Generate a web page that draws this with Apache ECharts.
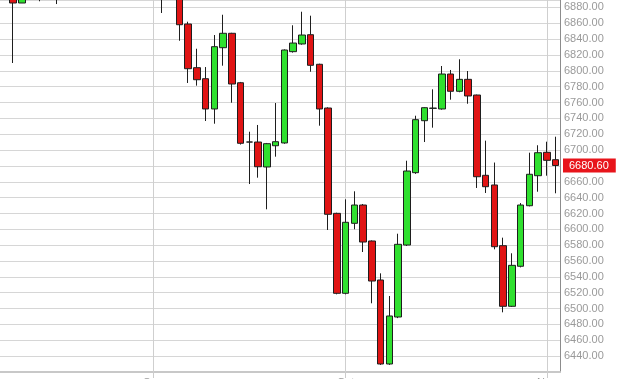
<!DOCTYPE html>
<html>
<head>
<meta charset="utf-8">
<script src="https://cdn.jsdelivr.net/npm/echarts@6/dist/echarts.min.js"></script>
<style>
html,body{margin:0;padding:0;background:#fff;}
#chart{width:619px;height:379px;}
</style>
</head>
<body>
<div id="chart"></div>
<script>
// Trading days (first entry is a leading day whose candle lies above the visible range)
const categories = [
  '2014-08-07','2014-08-08','2014-08-11','2014-08-12','2014-08-13','2014-08-14','2014-08-15',
  '2014-08-18','2014-08-19','2014-08-20','2014-08-21','2014-08-22',
  '2014-08-25','2014-08-26','2014-08-27','2014-08-28','2014-08-29',
  '2014-09-01','2014-09-02','2014-09-03','2014-09-04','2014-09-05',
  '2014-09-08','2014-09-09','2014-09-10','2014-09-11','2014-09-12',
  '2014-09-15','2014-09-16','2014-09-17','2014-09-18','2014-09-19',
  '2014-09-22','2014-09-23','2014-09-24','2014-09-25','2014-09-26',
  '2014-09-29','2014-09-30',
  '2014-10-01','2014-10-02','2014-10-03',
  '2014-10-06','2014-10-07','2014-10-08','2014-10-09','2014-10-10',
  '2014-10-13','2014-10-14','2014-10-15','2014-10-16','2014-10-17',
  '2014-10-20','2014-10-21','2014-10-22','2014-10-23','2014-10-24',
  '2014-10-27','2014-10-28','2014-10-29','2014-10-30','2014-10-31',
  '2014-11-03','2014-11-04'
];
const opens = [
  6905, 6912, 6885.6, 6898, 6910, 6903, 6915, 6905, 6918, 6930, 6925, 6938, 6945, 6936, 6942, 6950, 6944, 6938,
  6930, 6918, 6900, 6859.1, 6804.0, 6790.1, 6751.9, 6829.2, 6847.4, 6785.0, 6710.2, 6710.2, 6678.7, 6705.5,
  6709.0, 6824.2, 6833.9, 6845.6, 6808.3, 6753.1, 6620.2, 6519.3, 6607.6, 6630.7, 6585.3, 6536.1, 6430.1,
  6489.4, 6580.2, 6671.5, 6737.1, 6752.7, 6751.9, 6796.0, 6774.2, 6789.3, 6769.5, 6668.2, 6656.0, 6579.4,
  6502.9, 6553.4, 6629.8, 6667.7, 6697.2, 6687.9
];
const closes = [
  6915, 6885.6, 6897, 6908, 6902, 6914, 6904, 6918, 6930, 6925, 6938, 6945, 6936, 6942, 6950, 6944, 6938, 6930,
  6918, 6902, 6858.2, 6802.7, 6788.8, 6751.9, 6830.5, 6847.4, 6783.4, 6708.6, 6710.2, 6679.0, 6708.1, 6710.6,
  6826.3, 6835.1, 6845.2, 6807.0, 6751.9, 6619.0, 6519.3, 6608.9, 6630.7, 6584.0, 6534.8, 6430.1, 6490.7,
  6581.1, 6673.6, 6738.4, 6753.5, 6753.0, 6796.0, 6774.2, 6789.3, 6768.3, 6666.4, 6653.8, 6578.1, 6502.9,
  6554.6, 6630.7, 6669.5, 6696.7, 6687.1, 6680.6
];
const lows = [
  6896, 6809.9, 6885.6, 6892, 6887.8, 6895, 6884.3, 6898, 6910, 6915, 6920, 6930, 6928, 6930, 6935, 6936, 6926, 6912,
  6873, 6893, 6838.0, 6784.7, 6781.3, 6736.7, 6733.3, 6806.5, 6759.8, 6707.0, 6657.2, 6665.2, 6625.3, 6691.7,
  6708.0, 6823.0, 6833.0, 6798.9, 6730.8, 6599.2, 6518.0, 6518.0, 6600.1, 6571.4, 6506.7, 6429.0, 6429.0,
  6488.0, 6579.0, 6670.0, 6710.2, 6728.3, 6751.0, 6763.6, 6773.0, 6758.5, 6652.2, 6645.9, 6574.8, 6495.3,
  6502.0, 6552.0, 6629.0, 6647.5, 6667.7, 6645.5
];
const highs = [
  6922, 6920, 6903, 6915, 6918, 6921, 6922, 6926, 6936, 6940, 6945, 6952, 6950, 6948, 6958, 6956, 6950, 6945,
  6936, 6925, 6906, 6862.0, 6827.9, 6804.8, 6845.2, 6870.8, 6848.0, 6786.0, 6723.2, 6731.7, 6709.0, 6759.4,
  6827.0, 6857.5, 6874.6, 6869.6, 6809.0, 6754.0, 6621.0, 6637.9, 6648.0, 6632.0, 6586.0, 6544.5, 6515.9,
  6594.5, 6686.6, 6743.4, 6754.0, 6776.7, 6806.1, 6801.1, 6814.6, 6799.8, 6770.0, 6711.9, 6684.3, 6589.5,
  6569.8, 6633.2, 6696.7, 6706.1, 6710.6, 6716.9
];
const monthStarts = ['2014-09-01', '2014-10-01', '2014-11-03'];
const monthLabels = ['Sep', 'Oct', 'Nov'];
const lastPrice = 6680.60;

const candleData = opens.map((o, i) => [o, closes[i], lows[i], highs[i]]);
const isMonthStart = (idx) => monthStarts.indexOf(categories[idx]) >= 0;

const chart = echarts.init(document.getElementById('chart'), null, {renderer: 'canvas'});
const FONT = 'Liberation Sans, Arial, sans-serif';
chart.setOption({
  animation: false,
  backgroundColor: '#ffffff',
  grid: {left: 0, right: 59, top: 0, bottom: 7, containLabel: false, outerBoundsMode: 'none'},
  xAxis: {
    type: 'category',
    data: categories,
    boundaryGap: true,
    axisLine: {show: true, lineStyle: {color: '#c8c8c8', width: 2}},
    axisTick: {show: true, alignWithLabel: true, interval: (i) => isMonthStart(i), length: 6, lineStyle: {color: '#cccccc'}},
    axisLabel: {
      interval: (i) => isMonthStart(i),
      formatter: (v) => { const k = monthStarts.indexOf(v); return k >= 0 ? monthLabels[k] : ''; },
      color: '#999999', fontSize: 11, margin: 5, fontFamily: FONT
    },
    splitLine: {show: false}
  },
  yAxis: {
    type: 'value',
    position: 'right',
    min: 6420,
    max: 6889.4,
    interval: 20,
    axisLine: {show: true, lineStyle: {color: '#8c8c8c', width: 1}},
    axisTick: {show: false},
    axisLabel: {
      formatter: (v) => (Math.abs(v % 20) < 1e-6 && v > 6420) ? v.toFixed(2) : '',
      color: '#9a9a9a', fontSize: 11, margin: 4, fontFamily: FONT
    },
    splitLine: {show: true, lineStyle: {color: '#d6d6d6', width: 1}}
  },
  series: [{
    type: 'candlestick',
    data: candleData,
    barWidth: 7,
    clip: true,
    itemStyle: {
      color: '#2fe02f',
      color0: '#e01414',
      borderColor: '#1e1e1e',
      borderColor0: '#1e1e1e',
      borderWidth: 1
    },
    markLine: {
      silent: true,
      symbol: 'none',
      z: 1,
      animation: false,
      data: monthStarts.map((d) => ({
        xAxis: d,
        lineStyle: {color: '#cfcfcf', width: 1, type: 'solid'},
        label: {show: false}
      })).concat([{
        yAxis: lastPrice,
        lineStyle: {color: 'rgba(0,0,0,0)', width: 1},
        label: {
          show: true, position: 'end', distance: 3,
          formatter: lastPrice.toFixed(2),
          backgroundColor: '#e8141b', color: '#ffffff',
          fontSize: 11, fontFamily: FONT, padding: [2, 7, 1, 6]
        }
      }])
    }
  }]
});
</script>
</body>
</html>
